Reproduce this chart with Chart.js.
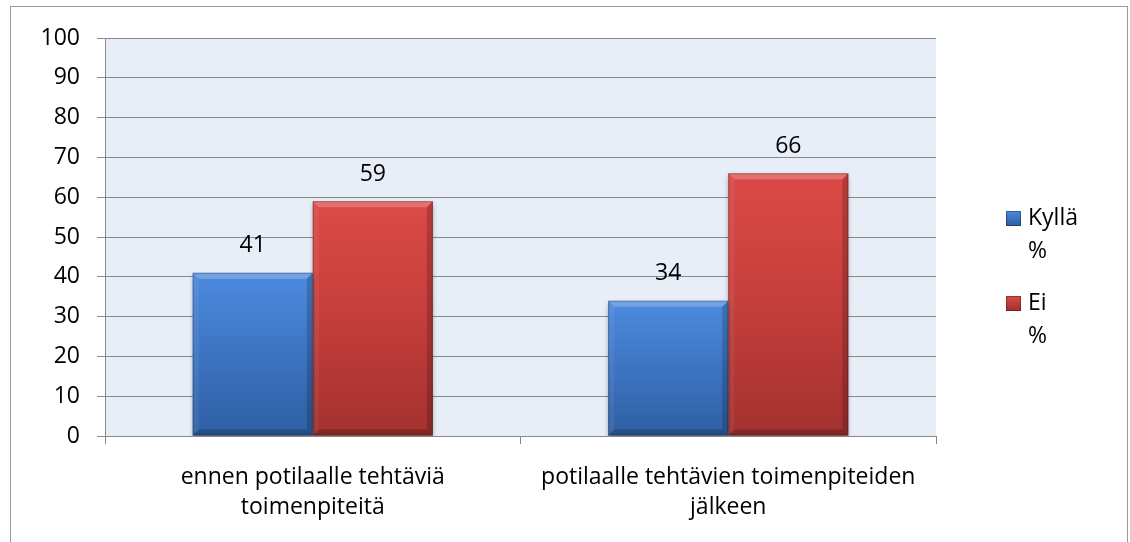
<!DOCTYPE html>
<html>
<head>
<meta charset="utf-8">
<script src="https://cdn.jsdelivr.net/npm/chart.js@4/dist/chart.umd.min.js"></script>
<style>
  html, body { margin: 0; padding: 0; background: #fff; }
  #wrap { position: relative; width: 1130px; height: 542px; overflow: hidden; }
  #frame {
    position: absolute; left: 10px; top: 6px; width: 1118px; height: 560px;
    border: 1px solid #9a9a9a; box-sizing: border-box;
  }
  canvas { position: absolute; left: 0; top: 0; }
</style>
</head>
<body>
<div id="wrap">
  <div id="frame"></div>
  <canvas id="chart" width="1130" height="542"></canvas>
</div>
<script>
const CATEGORIES = [
  ["ennen potilaalle tehtäviä", "toimenpiteitä"],
  ["potilaalle tehtävien toimenpiteiden", "jälkeen"],
];
const KYLLA = [41, 34];
const EI = [59, 66];
const SERIES_NAMES = ["Kyllä %", "Ei %"];
const LEGEND_LINES = [["Kyllä", "%"], ["Ei", "%"]];
const Y_MIN = 0;
const Y_MAX = 100;
const Y_STEP = 10;

const FONT = "'Open Sans', 'Noto Sans', sans-serif";
const FONT_SIZE = 23;
const GRID = "#888888";
const BLUE = ["#4d8ade", "#3d74c2", "#2f5fa3"];
const RED = ["#dc4a47", "#c43e3b", "#a3312f"];

Chart.defaults.font.family = FONT;
Chart.defaults.font.size = FONT_SIZE;
Chart.defaults.color = "#000";

function barFill(colors) {
  return (ctx) => {
    const chart = ctx.chart;
    if (!chart.chartArea || ctx.type !== "data") return colors[1];
    const y = chart.scales.y;
    const top = y.getPixelForValue(ctx.raw);
    const bottom = y.getPixelForValue(Y_MIN);
    const g = chart.ctx.createLinearGradient(0, top, 0, bottom);
    g.addColorStop(0, colors[0]);
    g.addColorStop(0.5, colors[1]);
    g.addColorStop(1, colors[2]);
    return g;
  };
}

const plotBackground = {
  id: "plotBackground",
  beforeDraw(chart) {
    const { ctx, chartArea: a } = chart;
    ctx.save();
    ctx.fillStyle = "#e8eef7";
    ctx.fillRect(a.left, a.top, a.right - a.left, a.bottom - a.top);
    ctx.restore();
  },
};

const barShadow = {
  id: "barShadow",
  beforeDatasetsDraw(chart) {
    const ctx = chart.ctx;
    ctx.save();
    ctx.shadowColor = "rgba(0,0,0,0.35)";
    ctx.shadowBlur = 5;
    ctx.shadowOffsetY = 3;
  },
  afterDatasetsDraw(chart) {
    chart.ctx.restore();
  },
};

const bevelAndLabels = {
  id: "bevelAndLabels",
  afterDatasetsDraw(chart) {
    const ctx = chart.ctx;
    const b = 6;
    chart.data.datasets.forEach((ds, i) => {
      chart.getDatasetMeta(i).data.forEach((el, j) => {
        const l = el.x - el.width / 2;
        const r = el.x + el.width / 2;
        const t = el.y;
        const bot = el.base;
        const poly = (pts, fill) => {
          ctx.beginPath();
          ctx.moveTo(pts[0][0], pts[0][1]);
          pts.slice(1).forEach((p) => ctx.lineTo(p[0], p[1]));
          ctx.closePath();
          ctx.fillStyle = fill;
          ctx.fill();
        };
        ctx.save();
        poly([[l, t], [r, t], [r - b, t + b], [l + b, t + b]], "rgba(255,255,255,0.22)");
        poly([[l, t], [l + b, t + b], [l + b, bot - b], [l, bot]], "rgba(255,255,255,0.06)");
        poly([[r, t], [r - b, t + b], [r - b, bot - b], [r, bot]], "rgba(0,0,0,0.18)");
        poly([[l, bot], [l + b, bot - b], [r - b, bot - b], [r, bot]], "rgba(0,0,0,0.2)");
        ctx.strokeStyle = "rgba(0,0,0,0.25)";
        ctx.lineWidth = 1;
        ctx.strokeRect(l + 0.5, t + 0.5, r - l - 1, bot - t - 1);

        ctx.fillStyle = "#000";
        ctx.font = `${FONT_SIZE}px ${FONT}`;
        ctx.textAlign = "center";
        ctx.textBaseline = "middle";
        ctx.fillText(String(ds.data[j]), el.x, t - 27);
        ctx.restore();
      });
    });
  },
};

const sideLegend = {
  id: "sideLegend",
  afterDraw(chart) {
    const ctx = chart.ctx;
    const tops = [218, 303];
    const palettes = [BLUE, RED];
    ctx.save();
    ctx.font = `${FONT_SIZE}px ${FONT}`;
    ctx.textAlign = "left";
    ctx.textBaseline = "middle";
    LEGEND_LINES.forEach((lines, i) => {
      const y = tops[i];
      const g = ctx.createLinearGradient(0, y - 7, 0, y + 7);
      g.addColorStop(0, palettes[i][0]);
      g.addColorStop(1, palettes[i][2]);
      ctx.fillStyle = g;
      ctx.fillRect(1006, y - 7, 15, 15);
      ctx.strokeStyle = "rgba(0,0,0,0.3)";
      ctx.strokeRect(1006.5, y - 6.5, 14, 14);
      ctx.fillStyle = "#000";
      lines.forEach((line, k) => ctx.fillText(line, 1028, y + k * 33));
    });
    ctx.restore();
  },
};

new Chart(document.getElementById("chart"), {
  type: "bar",
  data: {
    labels: CATEGORIES,
    datasets: [
      { label: SERIES_NAMES[0], data: KYLLA, backgroundColor: barFill(BLUE), borderWidth: 0 },
      { label: SERIES_NAMES[1], data: EI, backgroundColor: barFill(RED), borderWidth: 0 },
    ],
  },
  options: {
    responsive: false,
    animation: false,
    maintainAspectRatio: false,
    layout: { padding: { left: 0, top: 38, right: 194, bottom: 0 } },
    datasets: { bar: { categoryPercentage: 0.578, barPercentage: 1 } },
    plugins: { legend: { display: false }, tooltip: { enabled: false } },
    scales: {
      x: {
        grid: { drawOnChartArea: false, drawTicks: true, tickLength: 8, color: GRID },
        border: { color: GRID },
        ticks: { padding: 19, font: { size: FONT_SIZE, lineHeight: 1.3 }, maxRotation: 0 },
        afterFit(scale) { scale.height = 106; },
      },
      y: {
        min: Y_MIN,
        max: Y_MAX,
        grid: { color: GRID, tickLength: 8 },
        border: { color: GRID },
        ticks: { stepSize: Y_STEP, padding: 17, font: { size: FONT_SIZE } },
        afterFit(scale) { scale.width = 105; },
      },
    },
  },
  plugins: [plotBackground, barShadow, bevelAndLabels, sideLegend],
});
</script>
</body>
</html>
